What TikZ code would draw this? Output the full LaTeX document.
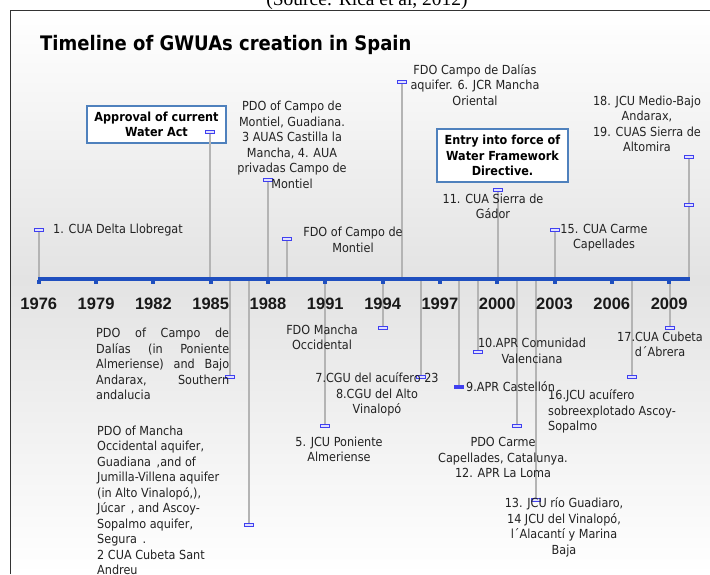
\documentclass[tikz,border=0pt]{standalone}
\usepackage{fontspec}
\setmainfont{DejaVu Sans Condensed}
\newfontfamily\yearfont{Liberation Sans}
\newfontfamily\srcfont{Liberation Serif}
\definecolor{axisblue}{HTML}{1F4FBF}
\definecolor{boxblue}{HTML}{4F81BD}
\definecolor{stemgray}{HTML}{B4B4B4}
\definecolor{markblue}{HTML}{4040F0}
\definecolor{txt}{HTML}{222222}
\tikzset{
  lbl/.style={font=\fontsize{12.5}{15.5}\selectfont, inner sep=0pt, align=center, text=txt},
  lblleft/.style={lbl, align=left, anchor=west},
  eventbox/.style={draw=boxblue, line width=2pt, fill=white, inner sep=0pt,
     font=\bfseries\fontsize{12.5}{15.5}\selectfont, align=center, text=black},
  stem/.style={draw=stemgray, line width=1.5pt},
  mk/.style={draw=markblue, fill=blue!12, line width=0.8pt, minimum width=9pt, minimum height=3pt, inner sep=0pt, rectangle},
  ticksq/.style={fill=axisblue, minimum width=4pt, minimum height=4pt, inner sep=0pt, rectangle},
  yearlbl/.style={font=\yearfont\bfseries\fontsize{16.5}{18}\selectfont, inner sep=0pt, anchor=base, text=black!90},
  axisline/.style={draw=axisblue, line width=4pt}
}
\begin{document}
\begin{tikzpicture}[x=1pt,y=-1pt]
\useasboundingbox (0,0) rectangle (710,574);
\begin{scope}
\clip (0,0) rectangle (710,574);
% background
\shade[top color=white, bottom color=black!11] (10,10) rectangle (710,280);
\shade[top color=black!11, bottom color=white] (10,280) rectangle (710,574);
\draw[black!80, line width=1pt] (10,574) -- (10,10.5) -- (710,10.5);
\node[font=\srcfont\fontsize{19.5}{20}\selectfont, anchor=base, inner sep=0pt] (src) at (367,5) {(Source: Rica et al, 2012)};
% title
\node[font=\bfseries\fontsize{20}{22}\selectfont, anchor=base west, inner sep=0pt] (title) at (40,50) {Timeline of GWUAs creation in Spain};

% boxes
\node[eventbox, minimum width=139pt, minimum height=37pt] (wateract) at (156.5,124.5) {Approval of current\\Water Act};
\node[eventbox, minimum width=131pt, minimum height=53pt] (wfd) at (502.5,155.5) {Entry into force of\\Water Framework\\Directive.};

% axis coordinates
\coordinate (axL) at (38,279);
\coordinate (axR) at (690,279);
\foreach \n/\x in {e1/39,e2/210,e3/268,e4/287,e5/402,e6/498,e7/555,e8/689,
                   f1/230,f2/249,f3/325,f4/383,f5/421,f6/459,f7/478,f8/517,f9/536,f10/632,f11/670}
  {\coordinate (a\n) at (\x,279);}

% markers
\node[mk] (m1) at (39,230) {};
\node[mk] (m2) at (210,132) {};
\node[mk] (m3) at (268,180) {};
\node[mk] (m4) at (287,239) {};
\node[mk] (m5) at (402,82) {};
\node[mk] (m6) at (498,190) {};
\node[mk] (m7) at (555,230) {};
\node[mk] (m8) at (689,157) {};
\node[mk] (m8b) at (689,205) {};
\node[mk] (n1) at (230,377) {};
\node[mk] (n2) at (249,525) {};
\node[mk] (n3) at (325,426) {};
\node[mk] (n4) at (383,328) {};
\node[mk] (n5) at (421,377) {};
\node[mk, fill=markblue] (n6) at (459,387) {};
\node[mk] (n7) at (478,352) {};
\node[mk] (n8) at (517,426) {};
\node[mk] (n9) at (536,500) {};
\node[mk] (n10) at (632,377) {};
\node[mk] (n11) at (670,328) {};

% stems
\foreach \a/\m in {e1/m1,e2/m2,e3/m3,e4/m4,e5/m5,e6/m6,e7/m7,e8/m8,
                   f1/n1,f2/n2,f3/n3,f4/n4,f5/n5,f6/n6,f7/n7,f8/n8,f9/n9,f10/n10,f11/n11}
  {\draw[stem] (a\a) -- (\m.center);}
% redraw markers above stems
\foreach \m/\x/\y in {m1/39/230,m2/210/132,m3/268/180,m4/287/239,m5/402/82,m6/498/190,m7/555/230,m8/689/157,m8b/689/205,
                      n1/230/377,n2/249/525,n3/325/426,n4/383/328,n5/421/377,n7/478/352,n8/517/426,n9/536/500,n10/632/377,n11/670/328}
  {\node[mk] (r\m) at (\x,\y) {};}
\node[mk, fill=markblue] (rn6) at (459,387) {};

% axis
\draw[axisline] (axL) -- (axR);
\foreach \yr [count=\i from 0] in {1976,1979,1982,1985,1988,1991,1994,1997,2000,2003,2006,2009}
  {\node[ticksq] (t\yr) at ({38.8+\i*57.3},282) {};
   \node[yearlbl] (y\yr) at ({38.8+\i*57.3},309) {\yr};}

% upper labels
\node[lblleft] (l1) at (53,230) {1. CUA Delta Llobregat};
\node[lbl] (l3) at (292,145) {PDO of Campo de\\Montiel, Guadiana.\\3 AUAS Castilla la\\Mancha, 4. AUA\\privadas Campo de\\Montiel};
\node[lbl] (l4) at (353,240) {FDO of Campo de\\Montiel};
\node[lbl] (l5) at (475,85) {FDO Campo de Dalías\\aquifer. 6. JCR Mancha\\Oriental};
\node[lbl] (l6) at (493,206.5) {11. CUA Sierra de\\Gádor};
\node[lbl] (l7) at (604,237.5) {15. CUA Carme\\Capellades};
\node[lbl] (l8) at (647,124) {18. JCU Medio-Bajo\\Andarax,\\19. CUAS Sierra de\\Altomira};

% lower labels
\node[lblleft] (k1) at (96,364) {\hbox to 133pt{PDO\hfill of\hfill Campo\hfill de}\\
  \hbox to 133pt{Dalías\hfill (in\hfill Poniente}\\
  \hbox to 133pt{Almeriense)\hfill and\hfill Bajo}\\
  \hbox to 133pt{Andarax,\hfill Southern}\\
  andalucia};
\node[lblleft] (k2) at (97,500.5) {PDO of Mancha\\Occidental aquifer,\\Guadiana \,,and of\\Jumilla-Villena aquifer\\(in Alto Vinalopó,),\\Júcar \,, and Ascoy-\\Sopalmo aquifer,\\Segura \,.\\2 CUA Cubeta Sant\\Andreu};
\node[lbl] (k3a) at (322,337.5) {FDO Mancha\\Occidental};
\node[lbl] (k3) at (339,449.5) {5. JCU Poniente\\Almeriense};
\node[lbl] (k5) at (377,394.5) {7.CGU del acuífero 23\\8.CGU del Alto\\Vinalopó};
\node[lblleft] (k6) at (466,387) {9.APR Castellón};
\node[lbl] (k7) at (532,351) {10.APR Comunidad\\Valenciana};
\node[lbl] (k8) at (503,457.5) {PDO Carme\\Capellades, Catalunya.\\12. APR La Loma};
\node[lbl] (k9) at (564,527.5) {13. JCU río Guadiaro,\\14 JCU del Vinalopó,\\l´Alacantí y Marina\\Baja};
\node[lblleft] (k9b) at (548,411.5) {16.JCU acuífero\\sobreexplotado Ascoy-\\Sopalmo};
\node[lbl] (k11) at (660,344.5) {17.CUA Cubeta\\d´Abrera};
\end{scope}
\end{tikzpicture}
\end{document}
